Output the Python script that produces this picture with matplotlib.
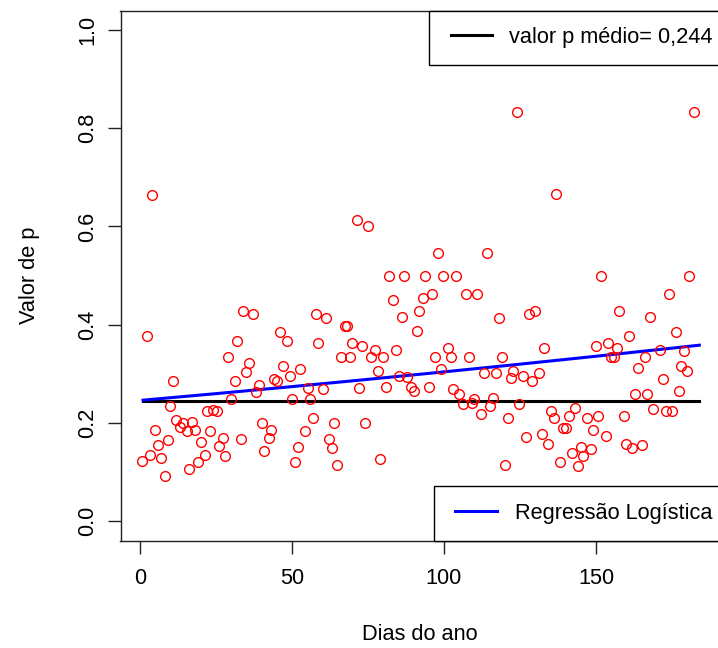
import numpy as np
import matplotlib
matplotlib.use("Agg")
import matplotlib.pyplot as plt
from matplotlib.legend_handler import HandlerLine2D

# Dia do ano de cada observação e respetivo valor p
dias = [
    0.7, 2.2, 3.3, 4.1, 4.9, 6.0, 6.8, 8.3, 9.1, 10.0,
    10.9, 11.9, 13.2, 14.3, 15.4, 16.0, 17.0, 18.0, 19.2, 20.2,
    21.3, 22.0, 22.9, 24.0, 25.4, 26.1, 27.3, 28.0, 28.9, 30.0,
    31.2, 32.0, 33.1, 34.0, 35.0, 35.9, 37.3, 38.1, 39.2, 40.2,
    40.9, 42.3, 43.2, 44.1, 45.1, 46.1, 46.9, 48.2, 49.4, 50.1,
    51.0, 52.1, 52.8, 54.2, 55.2, 56.0, 56.9, 57.9, 58.7, 60.1,
    61.2, 62.2, 63.0, 63.9, 64.9, 66.1, 67.4, 68.2, 69.0, 69.8,
    71.3, 72.1, 73.1, 74.0, 74.9, 75.9, 77.3, 78.2, 79.0, 79.9,
    81.0, 81.8, 83.2, 84.2, 85.1, 86.1, 87.0, 87.9, 89.0, 90.2,
    91.0, 91.9, 93.0, 93.8, 95.1, 96.2, 97.1, 97.9, 98.9, 99.7,
    101.3, 102.2, 102.9, 103.8, 105.0, 106.4, 107.2, 108.2, 109.1, 109.8,
    110.8, 112.2, 113.0, 114.0, 115.1, 116.0, 117.0, 118.2, 119.2, 120.0,
    120.9, 122.0, 122.8, 124.1, 124.8, 126.0, 127.0, 127.9, 128.8, 130.1,
    131.1, 132.1, 133.0, 134.1, 135.2, 136.1, 137.0, 138.0, 139.1, 140.0,
    141.2, 142.1, 143.1, 144.0, 145.0, 145.8, 147.1, 148.2, 149.1, 150.0,
    150.8, 151.7, 153.2, 154.1, 154.9, 156.0, 156.9, 157.7, 159.1, 160.0,
    160.9, 162.0, 162.8, 163.7, 165.1, 166.0, 166.8, 167.8, 168.9, 170.3,
    171.1, 172.0, 172.9, 173.9, 175.1, 176.2, 177.2, 177.9, 178.9, 180.0,
    180.7, 182.1,
]
valor_p = [
    0.122, 0.376, 0.134, 0.665, 0.186, 0.154, 0.129, 0.091, 0.165, 0.235,
    0.286, 0.206, 0.192, 0.200, 0.184, 0.105, 0.201, 0.185, 0.119, 0.160,
    0.134, 0.223, 0.183, 0.226, 0.223, 0.152, 0.169, 0.133, 0.333, 0.248,
    0.286, 0.367, 0.166, 0.428, 0.304, 0.321, 0.421, 0.262, 0.276, 0.200,
    0.143, 0.169, 0.186, 0.290, 0.286, 0.384, 0.315, 0.367, 0.296, 0.248,
    0.120, 0.151, 0.309, 0.183, 0.271, 0.248, 0.209, 0.422, 0.363, 0.268,
    0.413, 0.167, 0.148, 0.200, 0.114, 0.333, 0.398, 0.398, 0.333, 0.363,
    0.614, 0.271, 0.356, 0.200, 0.600, 0.333, 0.348, 0.306, 0.126, 0.333,
    0.272, 0.499, 0.450, 0.349, 0.296, 0.416, 0.499, 0.294, 0.272, 0.265,
    0.387, 0.428, 0.454, 0.499, 0.272, 0.462, 0.333, 0.545, 0.310, 0.499,
    0.353, 0.333, 0.269, 0.499, 0.259, 0.238, 0.462, 0.333, 0.240, 0.249,
    0.462, 0.218, 0.301, 0.545, 0.235, 0.250, 0.301, 0.413, 0.333, 0.114,
    0.210, 0.292, 0.306, 0.833, 0.239, 0.295, 0.171, 0.421, 0.286, 0.428,
    0.301, 0.177, 0.352, 0.156, 0.224, 0.210, 0.666, 0.120, 0.190, 0.190,
    0.214, 0.139, 0.231, 0.112, 0.151, 0.133, 0.209, 0.146, 0.186, 0.356,
    0.214, 0.499, 0.173, 0.363, 0.333, 0.333, 0.352, 0.428, 0.214, 0.157,
    0.376, 0.148, 0.258, 0.312, 0.154, 0.333, 0.258, 0.416, 0.228, 1.000,
    0.349, 0.289, 0.224, 0.462, 0.224, 0.384, 0.264, 0.315, 0.347, 0.306,
    0.499, 0.833,
]

# Valor p médio e coeficientes da regressão logística: logit(p) = b0 + b1 * dia
p_medio = 0.244
b0 = -1.1230
b1 = 0.002929
dia_inicio, dia_fim = 1, 184

x_ticks = [0, 50, 100, 150]
y_ticks = [0.0, 0.2, 0.4, 0.6, 0.8, 1.0]
y_tick_labels = ["0.0", "0.2", "0.4", "0.6", "0.8", "1.0"]

plt.rcParams["font.family"] = ["Liberation Sans", "DejaVu Sans"]
FS = 15.7

W, H = 718, 648
fig = plt.figure(figsize=(W / 100, H / 100), dpi=100)
left, right, top, bottom = 120.5, 718.5, 10.5, 540.5
ax = fig.add_axes([left / W, 1 - bottom / H, (right - left) / W, (bottom - top) / H])

ax.set_xlim(-6.41, 190.3)
ax.set_ylim(-0.04, 1.04)

# pontos observados
ax.plot(dias, valor_p, linestyle="none", marker="o", markersize=7.0,
        markerfacecolor="none", markeredgecolor="#ff0000", markeredgewidth=1.0,
        zorder=3)

# curvas: média e regressão logística
dd = np.arange(dia_inicio, dia_fim + 1)
linha_media, = ax.plot(dd, np.full(dd.shape, p_medio), color="black",
                       linewidth=2.2, zorder=2)
p_ajustado = 1.0 / (1.0 + np.exp(-(b0 + b1 * dd)))
linha_reg, = ax.plot(dd, p_ajustado, color="#0000ff", linewidth=2.2, zorder=2)

# eixos
for s in ax.spines.values():
    s.set_linewidth(1.0)
    s.set_color("#222222")
ax.set_xticks(x_ticks)
ax.set_xticklabels([str(t) for t in x_ticks], fontsize=FS)
ax.set_yticks(y_ticks)
ax.set_yticklabels(y_tick_labels, fontsize=FS, rotation=90, va="center")
ax.tick_params(axis="both", direction="out", length=9.4, width=1.0,
               color="#222222")
ax.tick_params(axis="x", pad=10.5)
ax.tick_params(axis="y", pad=6.5)

fig.text(30 / W, 1 - 275.5 / H, "Valor de p", rotation=90, ha="center",
         va="center", fontsize=FS)
fig.text(419.5 / W, 1 - 635 / H, "Dias do ano", ha="center", va="center",
         fontsize=FS)

texto_media = "valor p médio= " + f"{p_medio:.3f}".replace(".", ",")

handler = {
    linha_media: HandlerLine2D(xpad=0.215),
    linha_reg: HandlerLine2D(xpad=0.215),
}

estilo_legenda = dict(bbox_transform=fig.transFigure, borderaxespad=0,
                      fontsize=FS, frameon=True, fancybox=False, framealpha=1,
                      edgecolor="black", borderpad=0.76, handlelength=2.12,
                      handler_map=handler)

leg1 = ax.legend([linha_media], [texto_media], loc="upper right",
                 bbox_to_anchor=(728.6 / W, 1 - 10.5 / H),
                 handletextpad=0.75, **estilo_legenda)
leg1.get_frame().set_linewidth(1.0)
ax.add_artist(leg1)

leg2 = ax.legend([linha_reg], ["Regressão Logística"], loc="lower right",
                 bbox_to_anchor=(728.6 / W, 1 - 540.5 / H),
                 handletextpad=0.82, **estilo_legenda)
leg2.get_frame().set_linewidth(1.0)

fig.savefig("out.png", dpi=100)
